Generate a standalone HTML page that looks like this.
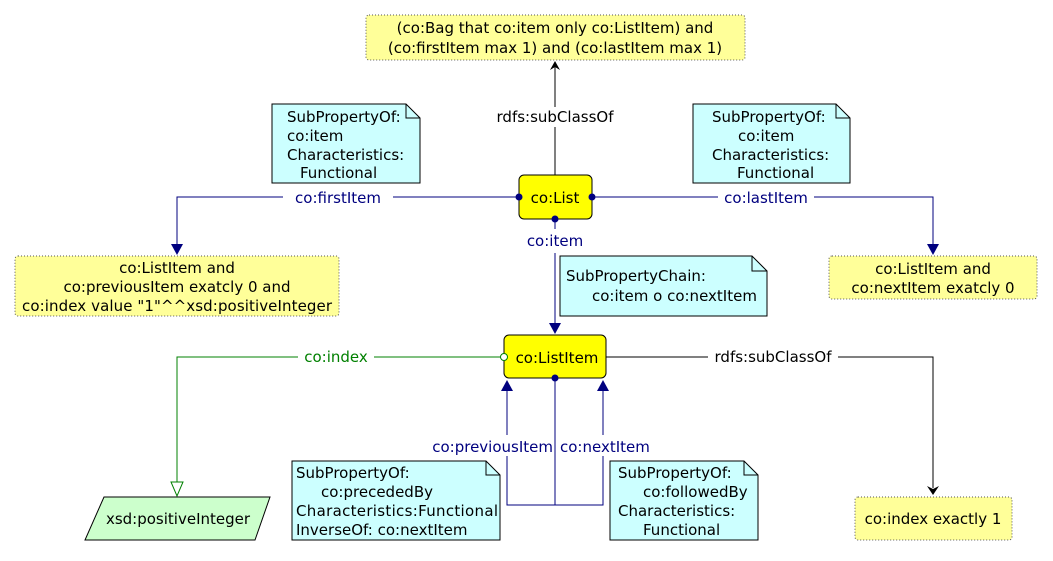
<!DOCTYPE html>
<html><head><meta charset="utf-8"><style>
html,body{margin:0;padding:0;background:#fff;}
svg text{font-family:"DejaVu Sans","Liberation Sans",sans-serif;font-size:15px;}
</style></head><body>
<svg width="1053" height="556" xmlns="http://www.w3.org/2000/svg">
<!-- top box -->
<rect x="366" y="15" width="379" height="45" rx="3" fill="#ffff99" stroke="#555" stroke-dasharray="1,2"/>
<text x="555" y="33" text-anchor="middle">(co:Bag that co:item only co:ListItem) and</text>
<text x="555" y="53" text-anchor="middle">(co:firstItem max 1) and (co:lastItem max 1)</text>
<line x1="555" y1="175" x2="555" y2="66" stroke="#000"/>
<path d="M550,70 L555,61 L560,70 L555,67 Z" fill="#000"/>
<rect x="490" y="107" width="130" height="20" fill="#fff"/>
<text x="555" y="122" text-anchor="middle">rdfs:subClassOf</text>
<!-- notes top -->
<path d="M272,104 L406,104 L420,118 L420,183 L272,183 Z" fill="#ccffff" stroke="#000"/>
<path d="M406,104 L406,118 L420,118" fill="none" stroke="#000"/>
<text x="287" y="122">SubPropertyOf:</text><text x="287" y="141">co:item</text>
<text x="287" y="160">Characteristics:</text><text x="300" y="178">Functional</text>
<path d="M693,104 L836,104 L850,118 L850,183 L693,183 Z" fill="#ccffff" stroke="#000"/>
<path d="M836,104 L836,118 L850,118" fill="none" stroke="#000"/>
<text x="712" y="122">SubPropertyOf:</text><text x="738" y="141">co:item</text>
<text x="712" y="160">Characteristics:</text><text x="737" y="178">Functional</text>
<!-- firstItem / lastItem -->
<polyline points="519,197 177,197 177,248" fill="none" stroke="#00007f"/>
<path d="M171,244 L183,244 L177,255 Z" fill="#00007f"/>
<rect x="283" y="189" width="110" height="17" fill="#fff"/>
<text x="338" y="203" text-anchor="middle" fill="#00007f">co:firstItem</text>
<polyline points="592,197 933,197 933,248" fill="none" stroke="#00007f"/>
<path d="M927,244 L939,244 L933,255 Z" fill="#00007f"/>
<rect x="718" y="189" width="96" height="17" fill="#fff"/>
<text x="766" y="203" text-anchor="middle" fill="#00007f">co:lastItem</text>
<!-- co:List -->
<rect x="519" y="175" width="73" height="44" rx="5" fill="#ffff00" stroke="#000"/>
<text x="555" y="203" text-anchor="middle" font-size="16">co:List</text>
<circle cx="519" cy="197" r="3.5" fill="#00007f"/><circle cx="592" cy="197" r="3.5" fill="#00007f"/><circle cx="555" cy="219" r="3.5" fill="#00007f"/>
<text x="555" y="246" text-anchor="middle" fill="#00007f">co:item</text>
<line x1="555" y1="222" x2="555" y2="229" stroke="#00007f"/>
<line x1="555" y1="253" x2="555" y2="326" stroke="#00007f"/>
<path d="M549,323 L561,323 L555,334 Z" fill="#00007f"/>
<!-- left/right boxes -->
<rect x="15" y="256" width="324" height="60" rx="3" fill="#ffff99" stroke="#555" stroke-dasharray="1,2"/>
<text x="177" y="273" text-anchor="middle">co:ListItem and</text>
<text x="177" y="292" text-anchor="middle">co:previousItem exatcly 0 and</text>
<text x="177" y="311" text-anchor="middle" textLength="310">co:index value "1"^^xsd:positiveInteger</text>
<rect x="829" y="256" width="208" height="43" rx="3" fill="#ffff99" stroke="#555" stroke-dasharray="1,2"/>
<text x="933" y="274" text-anchor="middle">co:ListItem and</text>
<text x="933" y="293" text-anchor="middle">co:nextItem exatcly 0</text>
<!-- chain note -->
<path d="M560,256 L752,256 L767,271 L767,316 L560,316 Z" fill="#ccffff" stroke="#000"/>
<path d="M752,256 L752,271 L767,271" fill="none" stroke="#000"/>
<text x="566" y="281">SubPropertyChain:</text>
<text x="592" y="301">co:item o co:nextItem</text>
<!-- ListItem -->
<polyline points="501,357 177,357 177,483" fill="none" stroke="#008000"/>
<path d="M171,482 L183,482 L177,496 Z" fill="#fff" stroke="#008000"/>
<rect x="298" y="348" width="76" height="17" fill="#fff"/>
<text x="336" y="362" text-anchor="middle" fill="#008000">co:index</text>
<polyline points="606,357 933,357 933,488" fill="none" stroke="#000"/>
<path d="M927,486 L933,495 L939,486 L933,489 Z" fill="#000"/>
<rect x="708" y="348" width="130" height="17" fill="#fff"/>
<text x="773" y="362" text-anchor="middle">rdfs:subClassOf</text>
<rect x="504" y="335" width="102" height="43" rx="5" fill="#ffff00" stroke="#000"/>
<circle cx="504" cy="357" r="3.5" fill="#fff" stroke="#008000"/>
<text x="557" y="363" text-anchor="middle" font-size="16">co:ListItem</text>
<circle cx="555" cy="378" r="3.5" fill="#00007f"/>
<!-- loops -->
<polyline points="507,388 507,435" fill="none" stroke="#00007f"/>
<polyline points="507,456 507,505 603,505 603,456" fill="none" stroke="#00007f"/>
<polyline points="603,435 603,388" fill="none" stroke="#00007f"/>
<line x1="555" y1="378" x2="555" y2="505" stroke="#00007f"/>
<path d="M501,391 L513,391 L507,380 Z" fill="#00007f"/>
<path d="M597,391 L609,391 L603,380 Z" fill="#00007f"/>
<text x="553" y="452" text-anchor="end" fill="#00007f">co:previousItem</text>
<text x="560" y="452" fill="#00007f">co:nextItem</text>
<!-- bottom notes -->
<path d="M292,461 L486,461 L500,475 L500,540 L292,540 Z" fill="#ccffff" stroke="#000"/>
<path d="M486,461 L486,475 L500,475" fill="none" stroke="#000"/>
<text x="296" y="478">SubPropertyOf:</text><text x="321" y="497">co:precededBy</text>
<text x="296" y="516" textLength="202">Characteristics:Functional</text><text x="296" y="535">InverseOf: co:nextItem</text>
<path d="M610,461 L744,461 L758,475 L758,540 L610,540 Z" fill="#ccffff" stroke="#000"/>
<path d="M744,461 L744,475 L758,475" fill="none" stroke="#000"/>
<text x="618" y="478">SubPropertyOf:</text><text x="643" y="497">co:followedBy</text>
<text x="618" y="516">Characteristics:</text><text x="643" y="535">Functional</text>
<!-- xsd -->
<path d="M104,497 L270,497 L255,540 L85,540 Z" fill="#ccffcc" stroke="#000"/>
<text x="178" y="524" text-anchor="middle">xsd:positiveInteger</text>
<rect x="855" y="497" width="157" height="43" rx="3" fill="#ffff99" stroke="#555" stroke-dasharray="1,2"/>
<text x="933" y="524" text-anchor="middle">co:index exactly 1</text>
</svg>
</body></html>
